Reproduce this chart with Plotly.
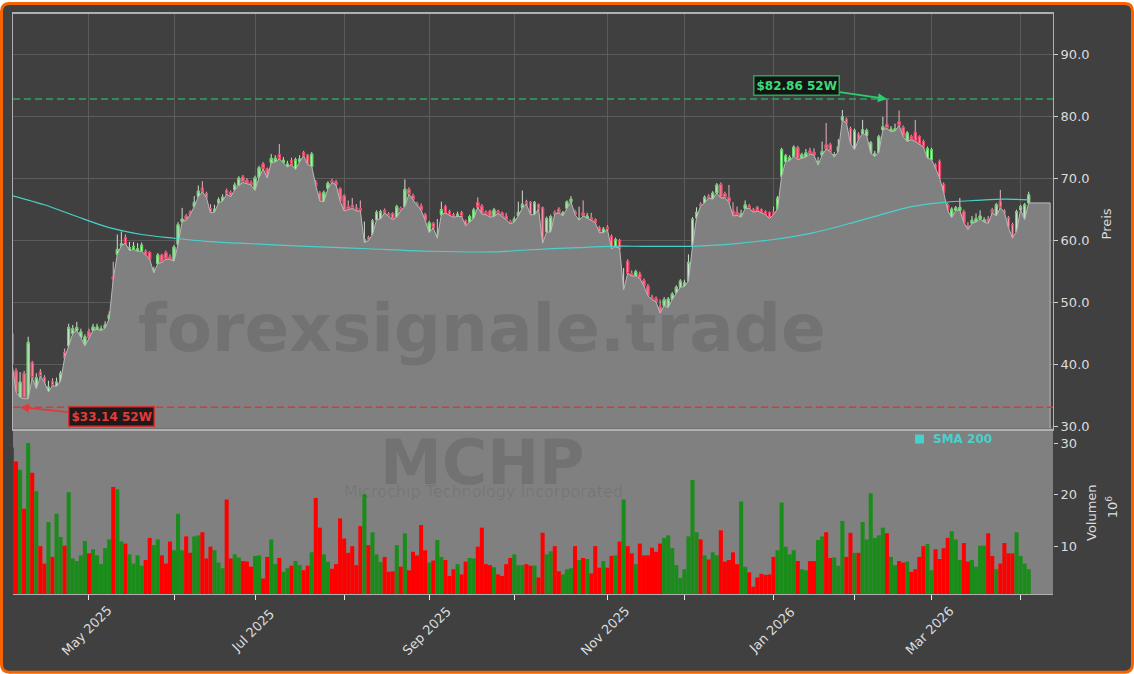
import plotly.graph_objects as go
import pandas as pd

# ---------------- data ----------------
HOLIDAYS = ["2025-04-18", "2025-05-26", "2025-06-19", "2025-07-04", "2025-09-01",
            "2025-11-27", "2025-12-25", "2026-01-01", "2026-01-19", "2026-02-16",
            "2026-04-03"]
START_DATE = "2025-04-03"
END_DATE = "2026-04-06"

OPEN = [
    45.0, 39.0, 34.7, 38.6, 34.5, 40.3, 36.1, 38.8, 37.9, 35.6,
    37.3, 36.5, 37.3, 42.0, 43.0, 45.0, 45.5, 44.4, 43.0, 45.4,
    45.5, 45.7, 45.5, 45.9, 47.4, 54.2, 57.8, 59.2, 60.5, 58.4,
    58.6, 58.3, 58.3, 58.3, 58.1, 54.8, 56.3, 57.7, 58.1, 57.4,
    56.7, 59.4, 63.1, 64.0, 64.6, 65.5, 67.1, 68.5, 67.6, 65.2,
    64.6, 66.1, 66.4, 68.1, 67.8, 68.2, 68.9, 70.3, 69.8, 69.4,
    68.1, 70.2, 72.4, 71.6, 72.6, 72.7, 73.9, 72.6, 71.9, 72.9,
    71.5, 72.7, 74.2, 73.8, 72.0, 69.4, 67.7, 66.3, 68.4, 69.7,
    69.5, 68.4, 67.3, 65.5, 65.7, 65.3, 65.2, 59.7, 60.5, 61.0,
    63.4, 63.5, 64.9, 64.3, 64.4, 63.8, 65.2, 65.5, 68.3, 67.3,
    66.0, 65.6, 64.2, 61.3, 62.8, 60.4, 64.2, 65.5, 64.7, 64.2,
    63.9, 64.5, 63.2, 63.0, 63.6, 66.2, 65.6, 64.6, 64.8, 63.9,
    64.8, 64.5, 64.0, 63.1, 63.0, 64.0, 65.3, 66.3, 66.2, 64.2,
    65.8, 65.3, 61.4, 61.4, 64.6, 65.1, 64.0, 65.2, 66.3, 64.7,
    63.3, 64.5, 63.6, 63.7, 63.4, 62.1, 61.3, 62.2, 60.7, 59.0,
    60.0, 52.1, 56.7, 54.7, 54.3, 54.6, 53.6, 52.7, 50.9, 50.7,
    49.4, 49.5, 49.2, 50.5, 51.6, 52.5, 52.6, 53.5, 59.1, 63.7,
    65.9, 66.1, 67.2, 66.7, 67.7, 69.1, 67.6, 67.0, 64.9, 64.6,
    63.8, 65.2, 65.6, 65.0, 65.4, 65.0, 64.7, 64.5, 64.6, 65.1,
    70.4, 72.8, 72.9, 73.6, 75.0, 73.3, 73.5, 74.5, 74.3, 72.2,
    73.8, 75.5, 75.5, 73.5, 74.4, 79.5, 79.6, 78.1, 74.7, 77.2,
    77.3, 77.0, 74.1, 73.6, 74.2, 77.9, 78.8, 77.6, 77.7, 79.2,
    78.3, 76.0, 76.8, 77.5, 76.8, 76.0, 73.3, 73.1, 72.2, 72.8,
    69.1, 65.8, 63.7, 64.9, 64.9, 64.7, 62.5, 62.8, 63.0, 63.5,
    63.0, 63.5, 65.0, 64.0, 66.4, 64.8, 63.7, 62.6, 61.5, 65.0,
    63.4, 66.1,
]
HIGH = [
    45.8, 39.4, 38.8, 39.0, 44.5, 40.6, 38.6, 39.3, 38.3, 37.4,
    37.8, 37.9, 39.0, 42.6, 46.6, 46.4, 46.9, 45.8, 44.9, 45.8,
    46.6, 46.6, 46.3, 47.0, 48.6, 56.6, 61.0, 61.5, 61.0, 59.8,
    59.8, 59.6, 59.7, 58.6, 58.3, 55.8, 58.0, 57.9, 58.4, 57.8,
    59.3, 63.0, 65.3, 64.3, 64.9, 67.2, 68.9, 69.6, 67.9, 65.9,
    65.8, 67.0, 67.5, 68.4, 68.1, 69.4, 70.4, 70.6, 70.1, 69.7,
    70.5, 72.1, 72.7, 71.8, 74.0, 73.8, 75.6, 73.5, 72.9, 73.4,
    73.4, 73.8, 74.5, 74.0, 74.3, 69.8, 68.0, 68.1, 69.6, 70.0,
    69.8, 68.6, 67.5, 66.5, 66.9, 65.9, 66.5, 63.1, 60.8, 63.5,
    64.9, 65.0, 65.2, 64.6, 64.6, 65.8, 65.5, 69.9, 68.6, 67.6,
    66.3, 66.0, 64.5, 63.2, 63.0, 63.5, 66.3, 65.8, 65.0, 64.5,
    64.7, 64.8, 63.4, 64.2, 65.3, 67.0, 65.9, 64.9, 65.0, 65.3,
    65.0, 64.7, 64.5, 63.4, 63.9, 66.3, 68.1, 66.6, 66.4, 66.4,
    66.0, 65.5, 63.9, 64.2, 64.9, 65.4, 64.8, 66.5, 67.2, 65.0,
    65.5, 66.5, 64.5, 64.5, 63.6, 62.4, 62.2, 62.5, 61.0, 60.5,
    60.3, 55.6, 57.0, 55.2, 55.3, 55.0, 53.9, 53.0, 51.3, 51.0,
    50.5, 50.9, 50.9, 51.7, 52.8, 53.8, 53.7, 57.8, 63.8, 65.4,
    66.2, 67.3, 67.5, 68.0, 69.3, 69.4, 67.9, 69.0, 66.2, 65.5,
    65.0, 66.5, 65.9, 65.3, 65.6, 65.2, 64.9, 64.7, 65.5, 67.2,
    75.0, 74.0, 73.8, 75.4, 75.3, 74.2, 74.8, 75.0, 74.9, 73.5,
    76.0, 79.0, 75.8, 74.3, 76.4, 81.1, 79.9, 78.4, 78.1, 77.5,
    79.5, 78.1, 76.1, 74.5, 77.1, 80.0, 82.86, 78.5, 78.9, 81.0,
    78.6, 77.7, 77.1, 79.5, 77.0, 76.3, 75.2, 75.0, 72.5, 73.1,
    69.4, 66.1, 65.4, 65.6, 66.9, 65.0, 63.0, 64.0, 64.4, 64.9,
    63.8, 64.0, 65.3, 66.1, 68.2, 65.1, 64.0, 62.9, 65.0, 65.8,
    66.1, 67.9,
]
LOW = [
    39.6, 34.8, 33.14, 33.8, 34.0, 36.8, 35.6, 37.4, 36.6, 35.3,
    36.2, 36.1, 37.0, 40.6, 42.6, 44.6, 45.0, 44.0, 42.8, 44.0,
    45.2, 45.4, 45.2, 45.6, 47.2, 52.0, 57.5, 58.8, 59.0, 58.0,
    58.2, 58.0, 58.0, 57.4, 56.7, 54.7, 56.0, 56.2, 56.8, 56.4,
    56.5, 59.2, 62.9, 63.0, 63.9, 65.3, 66.9, 67.5, 66.7, 64.2,
    64.4, 65.8, 66.0, 67.2, 66.8, 68.0, 68.7, 69.2, 69.0, 68.6,
    67.9, 70.0, 71.3, 69.9, 72.3, 72.5, 72.9, 72.3, 71.6, 72.0,
    71.3, 72.5, 73.4, 72.1, 71.8, 68.6, 65.6, 66.0, 68.2, 69.1,
    68.7, 66.2, 64.5, 64.4, 64.9, 64.5, 64.5, 59.5, 59.7, 60.8,
    63.2, 63.3, 64.2, 63.6, 63.2, 63.6, 64.6, 65.3, 67.3, 66.4,
    65.4, 64.3, 62.9, 61.0, 61.4, 60.2, 64.0, 64.2, 63.9, 63.5,
    63.6, 63.6, 62.1, 62.8, 63.4, 65.2, 64.0, 64.0, 63.6, 63.7,
    64.2, 63.5, 63.1, 62.4, 62.8, 63.8, 65.1, 65.6, 64.0, 64.0,
    64.9, 59.3, 61.2, 61.2, 64.0, 64.3, 63.8, 65.0, 66.1, 63.0,
    62.6, 63.3, 63.1, 62.6, 62.5, 61.0, 61.1, 61.5, 58.5, 58.8,
    58.6, 52.0, 54.4, 54.0, 54.0, 53.4, 52.5, 50.9, 50.2, 49.8,
    48.0, 48.5, 49.0, 50.2, 51.4, 52.3, 52.3, 53.3, 58.9, 63.5,
    65.3, 65.9, 66.6, 66.5, 67.5, 66.7, 66.7, 66.0, 63.4, 63.6,
    63.5, 65.0, 65.0, 64.3, 64.6, 64.2, 64.0, 63.4, 64.0, 64.9,
    70.2, 72.5, 72.6, 73.4, 72.9, 73.0, 73.2, 73.5, 73.4, 72.0,
    73.6, 74.4, 74.2, 73.2, 74.0, 79.2, 78.7, 75.4, 74.5, 76.1,
    77.1, 76.8, 73.8, 73.3, 74.0, 77.7, 77.9, 77.3, 77.4, 78.4,
    76.5, 75.8, 76.0, 75.8, 75.2, 74.8, 73.0, 72.8, 71.4, 69.9,
    67.5, 64.6, 61.8, 64.6, 64.6, 62.6, 61.3, 62.5, 62.8, 63.2,
    62.6, 62.3, 64.2, 63.8, 65.0, 64.3, 61.9, 59.6, 61.2, 64.7,
    63.2, 65.9,
]
CLOSE = [
    40.2, 35.6, 37.2, 34.5, 43.6, 37.9, 37.9, 38.1, 37.2, 36.4,
    36.6, 37.2, 38.6, 41.1, 46.0, 45.8, 46.0, 45.3, 44.5, 44.3,
    46.1, 46.1, 45.8, 46.4, 48.0, 53.8, 58.6, 59.5, 59.6, 58.9,
    59.1, 58.7, 59.3, 57.7, 57.0, 55.3, 57.7, 56.5, 57.0, 57.0,
    59.0, 62.6, 63.5, 63.3, 64.2, 66.2, 68.0, 67.9, 67.0, 64.5,
    65.1, 66.6, 67.0, 67.5, 67.1, 69.0, 70.1, 69.4, 69.2, 69.0,
    70.2, 71.8, 71.6, 70.1, 73.3, 73.3, 73.2, 73.0, 72.4, 72.3,
    73.1, 73.2, 73.7, 72.3, 74.0, 68.9, 66.4, 67.8, 69.3, 69.4,
    69.0, 66.4, 64.8, 65.0, 65.2, 64.8, 64.8, 60.2, 60.0, 63.2,
    64.6, 64.7, 64.5, 63.9, 63.4, 65.5, 64.9, 68.3, 67.5, 66.6,
    65.7, 64.9, 63.3, 62.9, 62.1, 61.0, 65.0, 64.5, 64.1, 63.8,
    64.3, 63.9, 62.4, 63.9, 65.0, 65.4, 64.3, 64.2, 63.8, 65.0,
    64.4, 63.9, 63.4, 62.7, 63.5, 64.6, 65.9, 65.9, 64.2, 66.2,
    65.1, 59.6, 63.6, 63.9, 64.3, 64.5, 64.5, 66.3, 66.7, 64.2,
    63.6, 64.0, 64.0, 63.3, 62.9, 61.3, 61.9, 61.8, 58.7, 60.2,
    58.8, 52.6, 54.7, 54.3, 55.0, 53.9, 52.7, 51.1, 50.5, 50.1,
    48.3, 50.5, 50.6, 51.4, 52.5, 53.5, 53.2, 56.5, 63.5, 64.6,
    65.6, 67.0, 66.9, 67.7, 69.0, 66.9, 66.9, 66.2, 64.0, 64.1,
    64.4, 65.8, 65.2, 64.6, 64.8, 64.5, 64.2, 63.6, 64.2, 66.9,
    74.7, 73.7, 73.4, 75.1, 73.1, 73.9, 74.2, 74.0, 73.8, 72.8,
    74.4, 74.8, 74.4, 73.9, 75.2, 80.0, 79.0, 75.7, 77.8, 76.4,
    77.9, 77.8, 75.8, 74.1, 76.8, 78.4, 78.1, 78.0, 78.1, 78.6,
    76.8, 77.4, 76.3, 76.0, 75.5, 75.1, 74.9, 74.7, 71.7, 70.1,
    67.8, 64.9, 65.1, 65.3, 65.4, 62.9, 61.8, 63.3, 63.6, 64.0,
    63.4, 62.8, 64.5, 65.8, 65.3, 64.6, 62.1, 60.4, 64.7, 65.5,
    65.8, 67.4,
]
VOLUME = [  # millions
    29.2, 26.5, 24.9, 17.3, 30.1, 24.3, 20.7, 10.0, 6.6, 14.7,
    7.9, 16.3, 11.8, 10.1, 20.5, 7.6, 7.1, 8.2, 11.0, 8.6,
    9.4, 8.2, 6.5, 9.6, 11.3, 21.5, 21.1, 10.9, 10.5, 8.4,
    6.6, 8.2, 6.2, 7.3, 11.6, 10.2, 11.3, 8.2, 6.6, 10.9,
    9.2, 16.3, 9.2, 11.9, 8.7, 11.9, 12.1, 12.7, 7.6, 9.9,
    9.2, 6.8, 5.7, 19.1, 7.6, 8.4, 7.8, 7.1, 7.0, 6.0,
    8.1, 8.2, 3.7, 7.9, 11.3, 6.5, 7.7, 5.0, 5.7, 6.2,
    7.1, 6.3, 5.3, 6.2, 8.8, 19.4, 13.6, 8.4, 7.0, 5.6,
    6.5, 15.4, 11.5, 8.7, 10.0, 6.3, 13.9, 20.1, 10.2, 12.7,
    8.4, 6.9, 7.9, 5.0, 5.1, 10.2, 6.0, 12.5, 5.3, 8.9,
    8.2, 14.1, 9.2, 6.8, 7.2, 11.2, 7.9, 7.3, 4.2, 5.5,
    6.5, 4.5, 7.0, 7.7, 7.6, 9.9, 13.6, 6.5, 6.3, 5.9,
    4.5, 4.2, 6.5, 7.7, 8.4, 6.3, 6.3, 6.5, 6.2, 6.2,
    3.9, 12.6, 8.4, 9.0, 10.0, 5.1, 4.5, 5.5, 5.7, 10.0,
    7.3, 7.7, 7.5, 4.7, 10.0, 5.8, 7.1, 5.8, 8.1, 8.2,
    10.9, 19.1, 10.0, 8.6, 6.5, 10.5, 8.2, 8.2, 9.7, 8.9,
    10.5, 11.6, 12.1, 9.6, 6.3, 3.8, 5.5, 11.9, 22.9, 12.7,
    11.3, 8.2, 7.4, 8.8, 8.2, 13.1, 7.0, 7.3, 8.8, 6.5,
    18.7, 6.0, 4.9, 2.1, 3.9, 4.6, 4.4, 4.5, 7.9, 9.2,
    18.5, 9.9, 8.4, 9.2, 7.1, 5.5, 5.3, 7.1, 7.1, 11.2,
    11.9, 12.7, 7.7, 7.8, 6.2, 14.9, 7.9, 12.6, 8.7, 8.7,
    14.7, 11.3, 20.3, 11.6, 12.1, 13.6, 12.5, 7.9, 6.3, 7.1,
    6.8, 7.0, 5.0, 5.5, 7.9, 10.0, 10.4, 5.3, 9.4, 7.5,
    9.6, 11.6, 12.9, 11.3, 7.3, 10.6, 7.0, 7.3, 6.0, 10.1,
    10.1, 12.5, 8.1, 5.5, 6.6, 10.6, 8.6, 8.6, 12.7, 8.1,
    6.6, 5.5,
]
# 200-day simple moving average, read at a few trading-day positions
SMA_IDX = [0, 8, 16, 24, 32, 40, 48, 56, 66, 76, 88, 103, 119, 127, 140, 148,
           156, 168, 178, 188, 198, 208, 214, 222, 230, 238, 245, 251]
SMA_VAL = [67.3, 65.8, 63.9, 62.1, 61.0, 60.4, 59.9, 59.6, 59.3, 59.0, 58.7, 58.3,
           58.2, 58.5, 58.9, 59.1, 59.1, 59.1, 59.5, 60.2, 61.3, 63.0, 64.1, 65.5,
           66.2, 66.5, 66.7, 66.6]
PRICE_TICKS = [30, 40, 50, 60, 70, 80, 90]
VOL_TICKS = [10, 20, 30]
TICKER = "MCHP"
COMPANY = "Microchip Technology Incorporated"
WATERMARK = "forexsignale.trade"

# ---------------- checks ----------------
N = len(CLOSE)
assert len(OPEN) == N and len(HIGH) == N and len(LOW) == N and len(VOLUME) == N, \
    (len(OPEN), len(HIGH), len(LOW), len(CLOSE), len(VOLUME))
bad = [i for i in range(N) if HIGH[i] < max(OPEN[i], CLOSE[i]) or LOW[i] > min(OPEN[i], CLOSE[i])]
assert not bad, bad
DATES = pd.bdate_range(START_DATE, END_DATE, freq="C", holidays=HOLIDAYS)
assert len(DATES) == N, (len(DATES), N)

X = list(range(N))
month_starts = [i for i in range(1, N) if DATES[i].month != DATES[i - 1].month]
labelled = [i for i in month_starts if DATES[i].month % 2 == 1]

# ---------------- geometry / style ----------------
W, H = 1134, 674
PL, PR, PT, PB = 13, 1053, 12, 594      # plot area in pixels
SPLIT = 428                               # price / volume boundary
X_RANGE = [0.25, 257.0]
PRICE_RANGE = [29.68, 96.59]
VOL_RANGE = [0.68, 32.9]
FILL_END = 256.3
VOL_FRAC = (PB - SPLIT) / (PB - PT)

BG = "#404040"
GRID = "#5c5c5c"
SPINE = "#b0b0b0"
TXT = "#dcdcdc"
TEAL = "#48d1cc"
UP_VOL, DN_VOL = "#1a8c1a", "#ff0000"


def px(xp):
    return (xp - PL) / (PR - PL)


def py(yp):
    return (PB - yp) / (PB - PT)


fig = go.Figure()

base = [min(o, c) for o, c in zip(OPEN, CLOSE)]
fig.add_trace(go.Scatter(
    x=X + [FILL_END, FILL_END, 0], y=base + [base[-1], 0, 0],
    fill="toself", fillcolor="#808080", mode="lines",
    line=dict(color="#b8b8b8", width=1), hoverinfo="skip", showlegend=False))

fig.add_trace(go.Scatter(
    x=SMA_IDX, y=SMA_VAL, mode="lines", name="SMA 200",
    line=dict(color=TEAL, width=1.2, shape="spline", smoothing=0.8),
    hoverinfo="skip", showlegend=False))

# wicks (pale)
fig.add_trace(go.Candlestick(
    x=X, open=OPEN, high=HIGH, low=LOW, close=CLOSE,
    increasing=dict(line=dict(color="#cfdccf", width=1), fillcolor="#cfdccf"),
    decreasing=dict(line=dict(color="#e8aebb", width=1), fillcolor="#e8aebb"),
    whiskerwidth=0, hoverinfo="skip", showlegend=False))
# bodies
fig.add_trace(go.Candlestick(
    x=X, open=OPEN, close=CLOSE,
    high=[max(o, c) for o, c in zip(OPEN, CLOSE)],
    low=[min(o, c) for o, c in zip(OPEN, CLOSE)],
    increasing=dict(line=dict(color="#5fd35f", width=1), fillcolor="#cfe9cf"),
    decreasing=dict(line=dict(color="#e8385e", width=1), fillcolor="#ff9aae"),
    whiskerwidth=0, hoverinfo="skip", showlegend=False))

vcolors = [UP_VOL if c >= o else DN_VOL for o, c in zip(OPEN, CLOSE)]
fig.add_trace(go.Bar(
    x=X, y=VOLUME, width=1.0, marker=dict(color=vcolors, line=dict(width=0)),
    xaxis="x2", yaxis="y2", hoverinfo="skip", showlegend=False))

# ---------------- shapes ----------------
r = 8
x0, y0, x1, y1 = 1.5, 1.5, W - 1.5, H - 1.5
pts = lambda a, b: f"{px(a):.5f},{py(b):.5f}"
border_path = (f"M {pts(x0 + r, y0)} L {pts(x1 - r, y0)} Q {pts(x1, y0)} {pts(x1, y0 + r)} "
               f"L {pts(x1, y1 - r)} Q {pts(x1, y1)} {pts(x1 - r, y1)} "
               f"L {pts(x0 + r, y1)} Q {pts(x0, y1)} {pts(x0, y1 - r)} "
               f"L {pts(x0, y0 + r)} Q {pts(x0, y0)} {pts(x0 + r, y0)} Z")
hi_val = max(HIGH)
lo_val = min(LOW)
hi_idx = HIGH.index(hi_val)
lo_idx = LOW.index(lo_val)
shapes = [
    dict(type="path", path=border_path, xref="paper", yref="paper",
         fillcolor=BG, line=dict(color="#f76300", width=3), layer="below"),
    dict(type="rect", xref="x2 domain", yref="y2 domain", x0=0, x1=1, y0=0, y1=1,
         fillcolor="#808080", line=dict(width=0), layer="below"),
    dict(type="line", xref="x domain", yref="y", x0=0, x1=1, y0=hi_val, y1=hi_val,
         line=dict(color="#2ea35c", width=1.5, dash="7px,4px")),
    dict(type="line", xref="x domain", yref="y", x0=0, x1=1, y0=lo_val, y1=lo_val,
         line=dict(color="#d43c3c", width=1.5, dash="7px,4px")),
    dict(type="rect", xref="paper", yref="paper", x0=px(915), x1=px(924),
         y0=py(443), y1=py(434), fillcolor=TEAL, line=dict(width=0)),
]

# ---------------- annotations ----------------
idx_px = lambda i: PL + (i - X_RANGE[0]) / (X_RANGE[1] - X_RANGE[0]) * (PR - PL)
price_px = lambda v: PT + (PRICE_RANGE[1] - v) / (PRICE_RANGE[1] - PRICE_RANGE[0]) * (SPLIT - PT)


def label(text, xp, yp, size, color, angle=0, xanchor="center"):
    return dict(text=text, xref="paper", yref="paper", x=px(xp), y=py(yp),
                xanchor=xanchor, yanchor="middle", textangle=angle,
                showarrow=False, font=dict(size=size, color=color))


ann = [
    label(f"<b>{WATERMARK}</b>", 482, 328, 66, "rgba(0,0,0,0.11)"),
    label(f"<b>{TICKER}</b>", 482, 462, 62, "rgba(0,0,0,0.11)"),
    label(COMPANY, 483, 491, 16, "rgba(0,0,0,0.09)"),
    label("<b>SMA 200</b>", 931, 438.5, 12, TEAL, xanchor="left"),
    label("Preis", 1106.7, 222.5, 13, TXT, angle=-90),
    label("Volumen", 1092, 512.7, 13, TXT, angle=-90),
    label("10<sup>6</sup>", 1112, 507, 13, TXT, angle=-90),
    dict(text=f"<b>${hi_val:.2f} 52W</b>", x=hi_idx, y=hi_val, xref="x", yref="y",
         showarrow=True, ax=797 - idx_px(hi_idx), ay=84 - price_px(hi_val),
         arrowhead=2, arrowsize=1, arrowwidth=1.8, arrowcolor="#2ecc71", standoff=0,
         font=dict(size=12, color="#3ddc7a"), bgcolor="rgba(16,16,16,0.92)",
         bordercolor="#22a857", borderwidth=1.5, borderpad=2),
    dict(text=f"<b>${lo_val:.2f} 52W</b>", x=lo_idx, y=lo_val, xref="x", yref="y",
         showarrow=True, ax=111.5 - idx_px(lo_idx), ay=416 - price_px(lo_val),
         arrowhead=2, arrowsize=1, arrowwidth=1.8, arrowcolor="#e03a3a", standoff=0,
         font=dict(size=12, color="#e23c3c"), bgcolor="rgba(24,16,16,0.92)",
         bordercolor="#c83232", borderwidth=1.5, borderpad=2),
]
for i in labelled:
    ann.append(dict(text=DATES[i].strftime("%b %Y"), x=i - 0.45, xref="x2",
                    y=py(631), yref="paper", textangle=-45, xanchor="center",
                    yanchor="middle", showarrow=False, font=dict(size=13, color=TXT)))

fig.update_layout(
    width=W, height=H, autosize=False,
    margin=dict(l=PL, r=W - PR, t=PT, b=H - PB, pad=0),
    paper_bgcolor="white", plot_bgcolor="rgba(0,0,0,0)",
    showlegend=False, font=dict(family="DejaVu Sans", size=13, color=TXT),
    shapes=shapes, annotations=ann, hovermode=False,
    xaxis=dict(domain=[0, 1], anchor="y", range=X_RANGE, tickvals=month_starts,
               showticklabels=False, ticks="", showgrid=True, gridcolor=GRID,
               gridwidth=1, zeroline=False, showline=True, mirror=True,
               linecolor=SPINE, linewidth=1.5, rangeslider=dict(visible=False)),
    xaxis2=dict(domain=[0, 1], anchor="y2", range=X_RANGE, matches="x",
                tickvals=month_starts, showticklabels=False, ticks="outside",
                ticklen=5, tickcolor="#e8e8e8", tickwidth=1, showgrid=False,
                zeroline=False, showline=True, linecolor=SPINE, linewidth=1),
    yaxis=dict(domain=[VOL_FRAC, 1], anchor="x", side="right", range=PRICE_RANGE,
               tickvals=PRICE_TICKS, tickformat=".1f", ticks="outside", ticklen=4,
               tickcolor="#d0d0d0", showgrid=True, gridcolor=GRID, zeroline=False,
               showline=True, mirror=True, linecolor=SPINE, linewidth=1,
               tickfont=dict(size=13, color=TXT)),
    yaxis2=dict(domain=[0, VOL_FRAC], anchor="x2", side="right", range=VOL_RANGE,
                tickvals=VOL_TICKS, ticks="outside", ticklen=4, tickcolor="#d0d0d0",
                showgrid=False, zeroline=False, showline=False,
                tickfont=dict(size=13, color=TXT)),
)

fig.write_html("out.html", config={"displayModeBar": False})

# remove the default page margin so the figure sits at the window origin
with open("out.html", "r", encoding="utf-8") as fh:
    page = fh.read()
page = page.replace("<head>", "<head><style>html,body{margin:0;padding:0;overflow:hidden;}</style>", 1)
with open("out.html", "w", encoding="utf-8") as fh:
    fh.write(page)
